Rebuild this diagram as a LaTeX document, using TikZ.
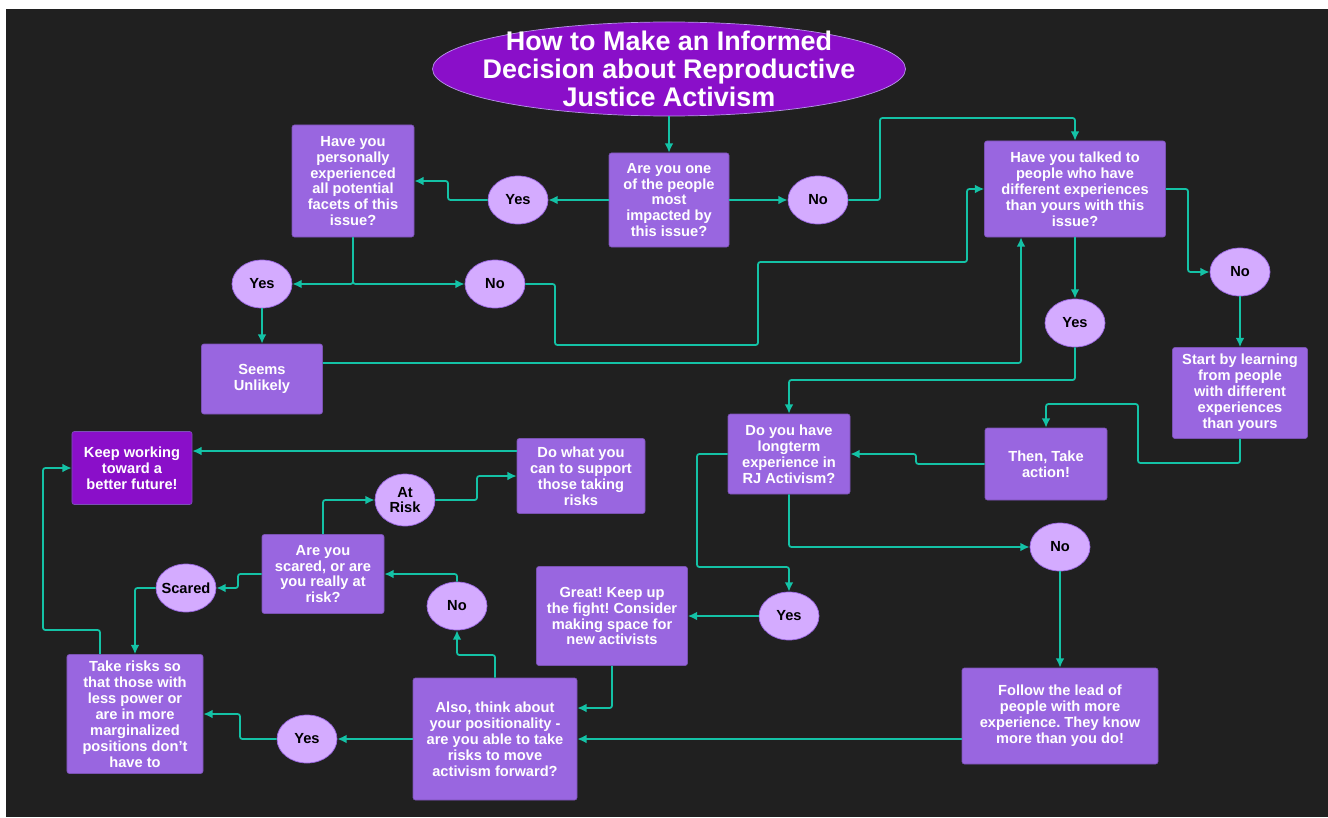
\documentclass[tikz,border=0pt]{standalone}
\usepackage{fontspec}
\setmainfont{Liberation Sans}
\usetikzlibrary{shapes.geometric, arrows.meta}
\frenchspacing

\definecolor{rjbg}{HTML}{202020}
\definecolor{rjpurple}{HTML}{9966E0}
\definecolor{rjviolet}{HTML}{8A0FC9}
\definecolor{rjlav}{HTML}{D4ABFF}
\definecolor{rjteal}{HTML}{14C2A6}

\tikzset{
  qbox/.style={draw=rjpurple!80!black, line width=0.5pt, fill=rjpurple, rounded corners=2pt,
    text=white, align=center, inner sep=0pt, font=\bfseries\fontsize{12.5}{13.6}\selectfont},
  ans/.style={ellipse, draw=rjpurple, line width=0.6pt, fill=rjlav, text=black, align=center,
    inner xsep=-0.6cm, inner ysep=0pt, minimum width=1.8cm, minimum height=1.44cm,
    font=\bfseries\fontsize{12.5}{13.6}\selectfont},
  headline/.style={ellipse, draw=rjpurple!70!white, line width=0.6pt, fill=rjviolet, text=white,
    align=center, inner xsep=-1.2cm, inner ysep=-0.4cm, minimum width=14.19cm, minimum height=2.82cm,
    font=\bfseries\fontsize{23}{24}\selectfont},
  link/.style={draw=rjteal, line width=1.5pt, rounded corners=2pt, >={Latex[length=8pt,width=7.5pt]}, ->}
}

\begin{document}
\begin{tikzpicture}[x=0.03cm, y=-0.03cm]
\fill[white] (0,0) rectangle (1328,817);
\fill[rjbg] (6,9) rectangle (1328,817);

\node[headline] (title) at (669,69) {How to Make an Informed\\Decision about Reproductive\\Justice Activism};

\node[qbox, minimum width=3.6cm, minimum height=2.82cm] (q1) at (669,200) {Are you one\\of the people\\most\\impacted by\\this issue?};
\node[qbox, minimum width=3.66cm, minimum height=3.36cm] (q2) at (353,181) {Have you\\personally\\experienced\\all potential\\facets of this\\issue?};
\node[ans] (yes1) at (518,200) {Yes};
\node[ans] (no1) at (818,200) {No};
\node[qbox, minimum width=5.43cm, minimum height=2.88cm] (q3) at (1075,189) {Have you talked to\\people who have\\different experiences\\than yours with this\\issue?};
\node[ans] (yes2) at (262,284) {Yes};
\node[ans] (no2) at (495,284) {No};
\node[qbox, minimum width=3.63cm, minimum height=2.1cm] (unlikely) at (262,379) {Seems\\Unlikely};
\node[ans] (no3) at (1240,272) {No};
\node[ans] (yes3) at (1075,323) {Yes};
\node[qbox, minimum width=4.05cm, minimum height=2.73cm] (learn) at (1240,393) {Start by learning\\from people\\with different\\experiences\\than yours};
\node[qbox, minimum width=3.66cm, minimum height=2.4cm] (q4) at (789,454) {Do you have\\longterm\\experience in\\RJ Activism?};
\node[qbox, minimum width=3.66cm, minimum height=2.16cm] (action) at (1046,464) {Then, Take\\action!};
\node[ans] (no4) at (1060,547) {No};
\node[ans] (yes4) at (789,616) {Yes};
\node[qbox, minimum width=5.88cm, minimum height=2.88cm] (follow) at (1060,716) {Follow the lead of\\people with more\\experience. They know\\more than you do!};
\node[qbox, minimum width=4.53cm, minimum height=2.97cm] (great) at (612,616) {Great! Keep up\\the fight! Consider\\making space for\\new activists};
\node[qbox, minimum width=4.92cm, minimum height=3.66cm] (also) at (495,739) {Also, think about\\your positionality -\\are you able to take\\risks to move\\activism forward?};
\node[ans] (yes5) at (307,739) {Yes};
\node[qbox, minimum width=4.08cm, minimum height=3.57cm] (risks) at (135,714) {Take risks so\\that those with\\less power or\\are in more\\marginalized\\positions don't\\have to};
\node[ans] (no5) at (457,606) {No};
\node[qbox, minimum width=3.66cm, minimum height=2.37cm] (scared) at (323,574) {Are you\\scared, or are\\you really at\\risk?};
\node[ans] (scaredans) at (186,588) {Scared};
\node[ans, minimum height=1.56cm] (atrisk) at (405,500) {At\\Risk};
\node[qbox, minimum width=3.84cm, minimum height=2.25cm] (support) at (581,476) {Do what you\\can to support\\those taking\\risks};
\node[qbox, fill=rjviolet, minimum width=3.6cm, minimum height=2.19cm] (keep) at (132,468) {Keep working\\toward a\\better future!};

\draw[link] (title.south) -- (q1.north);
\draw[link] (q1.west) -- (yes1.east);
\draw[link] (yes1.west) -- (448,200) |- (q2.east);
\draw[link] (q1.east) -- (no1.west);
\draw[link] (no1.east) -- (880,200) |- (1075,118) -- (q3.north);
\draw[link] (q2.south) |- (yes2.east);
\draw[link] (q2.south) |- (no2.west);
\draw[link] (yes2.south) -- (unlikely.north);
\draw[link] (no2.east) -- (555,284) -- (555,345) -- (758,345) -- (758,262) -- (967,262) |- (q3.west);
\draw[link] (unlikely.east |- 0,363) -| ([xshift=-1.62cm]q3.south);
\draw[link] (q3.south) -- (yes3.north);
\draw[link] (q3.east) -- (1188,189) |- (no3.west);
\draw[link] (no3.south) -- (learn.north);
\draw[link] (yes3.south) -- (1075,380) -| (q4.north);
\draw[link] (learn.south) |- (1138,463) -- (1138,404) -| (action.north);
\draw[link] (action.west) -- (916,464) |- (q4.east);
\draw[link] (q4.south) |- (no4.west);
\draw[link] (q4.west) -- (697,454) |- (789,567) -- (yes4.north);
\draw[link] (yes4.west) -- (great.east);
\draw[link] (no4.south) -- (follow.north);
\draw[link] (follow.west |- also.east) -- (also.east);
\draw[link] (great.south) |- ([yshift=0.93cm]also.east);
\draw[link] (also.west) -- (yes5.east);
\draw[link] (yes5.west) -- (240,739) |- (risks.east);
\draw[link] (also.north) |- (457,655) -- (no5.south);
\draw[link] (no5.north) |- (scared.east);
\draw[link] (scared.west) -- (238,574) |- (scaredans.east);
\draw[link] (scared.north) |- (atrisk.west);
\draw[link] (atrisk.east) -- (477,500) |- (support.west);
\draw[link] (support.west |- 0,451) -- (keep.east |- 0,451);
\draw[link] ([xshift=-1.05cm]risks.north) |- (43,630) |- (keep.west);
\draw[link] (scaredans.west) -| (risks.north);
\end{tikzpicture}
\end{document}
